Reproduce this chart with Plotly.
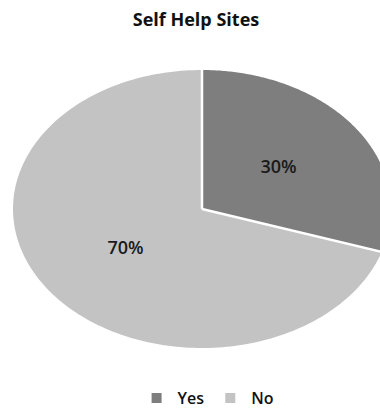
import numpy as np
import plotly.graph_objects as go

title = "Self Help Sites"
labels = ["Yes", "No"]
values = [30, 70]
colors = ["#7e7e7e", "#c3c3c3"]

W, H = 380, 411
# pixel geometry of the (stretched) pie
cx_px, cy_px = 202, 209
rx_px, ry_px = 189, 139

fig = go.Figure()
total = float(sum(values))
start = 0.0
label_r = 0.5
sep_x, sep_y = [], []
for lab, val, col in zip(labels, values, colors):
    frac = val / total
    a0, a1 = start * 2 * np.pi, (start + frac) * 2 * np.pi
    t = np.linspace(a0, a1, 200)
    xs = np.concatenate([[0], np.sin(t), [0]])
    ys = np.concatenate([[0], np.cos(t), [0]])
    fig.add_trace(go.Scatter(
        x=xs, y=ys, mode="none", fill="toself", fillcolor=col,
        name=lab, legendgroup=lab, showlegend=False, hoverinfo="name",
    ))
    sep_x += [0, 1.1 * np.sin(a0), None]
    sep_y += [0, 1.1 * np.cos(a0), None]
    am = (a0 + a1) / 2
    fig.add_trace(go.Scatter(
        x=[label_r * np.sin(am)], y=[label_r * np.cos(am)], mode="text",
        text=[f"{val}%"], textfont=dict(family="Open Sans", size=18, color="#1a1a1a", weight=600),
        showlegend=False, hoverinfo="skip",
    ))
    start += frac

# white slice separators
fig.add_trace(go.Scatter(x=sep_x, y=sep_y, mode="lines", line=dict(color="white", width=2.5),
                         showlegend=False, hoverinfo="skip"))

# legend entries (square swatches)
for lab, col in zip(labels, colors):
    fig.add_trace(go.Scatter(x=[None], y=[None], mode="markers", name=lab, legendgroup=lab,
                             marker=dict(symbol="square", size=10, color=col)))

fig.update_layout(
    width=W, height=H,
    margin=dict(l=0, r=0, t=0, b=0, autoexpand=False),
    paper_bgcolor="white", plot_bgcolor="white",
    title=dict(text=title, x=196 / W, xanchor="center", y=1 - 20 / H, yanchor="middle",
               font=dict(family="Open Sans", size=18, color="#111111", weight=700)),
    showlegend=True,
    legend=dict(orientation="h", x=0.545, xanchor="center", y=1 - 398 / H, yanchor="middle",
                font=dict(family="Open Sans", size=16, color="#111111", weight=600),
                traceorder="normal", itemwidth=32, tracegroupgap=0),
    xaxis=dict(range=[-cx_px / rx_px, (W - cx_px) / rx_px], visible=False, fixedrange=True),
    yaxis=dict(range=[(cy_px - H) / ry_px, cy_px / ry_px], visible=False, fixedrange=True),
)

fig.write_html("out.html", config={"displayModeBar": False},
               post_script="document.body.style.margin='0px';")
